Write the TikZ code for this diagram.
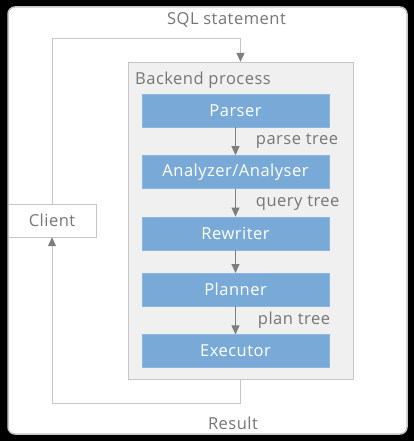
\documentclass[tikz,border=0pt]{standalone}
\usepackage{fontspec}
\setmainfont[LetterSpace=3]{Open Sans}
\usetikzlibrary{positioning,arrows.meta}
\definecolor{stageblue}{HTML}{79AAD7}
\definecolor{txtgray}{HTML}{767676}
\definecolor{linegray}{HTML}{C6C6C6}
\definecolor{arrowgray}{HTML}{7E7E7E}
\definecolor{procfill}{HTML}{F0F0F0}

\begin{document}
\begin{tikzpicture}[x=1pt, y=-1pt, font=\fontsize{16.5}{19}\selectfont, node distance=28pt,
  stage/.style={fill=stageblue, draw=stageblue!85!white, text=white, minimum width=187pt, minimum height=33pt,
                inner sep=0pt},
  lab/.style={text=txtgray, inner sep=0pt},
  arr/.style={draw=arrowgray, line width=0.9pt, -{Triangle[length=9pt, width=8pt]}},
  wire/.style={draw=linegray, line width=1pt, -{Triangle[length=9pt, width=8pt, color=arrowgray]}}]

% frame
\useasboundingbox (0,0) rectangle (414,441);
\fill[black] (0,0) rectangle (414,441);
\fill[white, draw=gray!45, line width=1.5pt, rounded corners=7pt] (8,7) rectangle (407,434);

% backend process and its stages
\node[draw=linegray, fill=procfill, minimum width=225pt, minimum height=317pt, inner sep=0pt] (backend)
  at (240.5,220.5) {};
\node[lab, anchor=west] (bp) at (135,80) {Backend process};

\node[stage] (parser) at (235.5,110.5) {Parser};
\node[stage, below=of parser] (analyzer) {Analyzer/Analyser};
\node[stage, below=of analyzer] (rewriter) {Rewriter};
\node[stage, below=23pt of rewriter] (planner) {Planner};
\node[stage, below=of planner] (executor) {Executor};

\draw[arr] (parser) -- node[lab, right=20pt] {parse tree} (analyzer);
\draw[arr] (analyzer) -- node[lab, right=20pt] {query tree} (rewriter);
\draw[arr] (rewriter) -- (planner);
\draw[arr] (planner) -- node[lab, right=22pt] {plan tree} (executor);

% client and the loop round the backend
\node[lab, draw=linegray, fill=white, minimum width=88pt, minimum height=33pt] (client) at (52,220.5) {Client};
\coordinate (top) at (0,39);
\coordinate (bot) at (0,403);
\node[lab] (sql) at (226.5,20) {SQL statement};
\node[lab] (result) at (233,423) {Result};

\draw[wire] (client.north) -- (client.north |- top) -- (backend.north |- top) -- (backend.north);
\draw[wire] (backend.south) -- (backend.south |- bot) -- (client.south |- bot) -- (client.south);
\end{tikzpicture}
\end{document}
